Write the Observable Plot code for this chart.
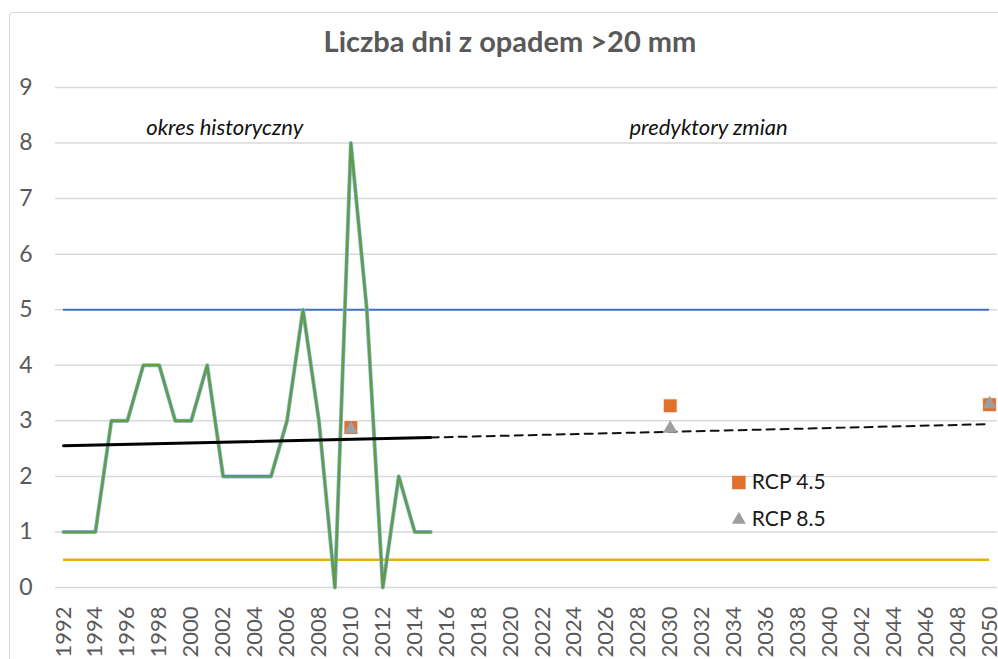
<!DOCTYPE html>
<html>
<head>
<meta charset="utf-8">
<script src="https://cdn.jsdelivr.net/npm/d3@7"></script>
<script src="https://cdn.jsdelivr.net/npm/@observablehq/plot@0.6"></script>
<style>
  html, body { margin: 0; padding: 0; background: #fff; }
  body { width: 998px; height: 659px; position: relative; overflow: hidden; font-family: Lato, "Open Sans", sans-serif; }
  #frame { position: absolute; left: 9px; top: 12px; width: 1000px; height: 660px; border: 1px solid #d9d9d9; border-radius: 3px; box-sizing: border-box; }
  #title { height: 70px; box-sizing: border-box; padding-top: 25px; text-align: center; font-weight: bold; font-size: 29px; color: #595959; padding-left: 22px; line-height: 32px; }
  #chart { position: absolute; left: 0; top: 70px; }
</style>
</head>
<body>
<div id="frame"></div>
<div id="title">Liczba dni z opadem &gt;20 mm</div>
<div id="chart"></div>
<script>
// historical observations
const histYears = [1992,1993,1994,1995,1996,1997,1998,1999,2000,2001,2002,2003,2004,2005,2006,2007,2008,2009,2010,2011,2012,2013,2014,2015];
const histValues = [1,1,1,3,3,4,4,3,3,4,2,2,2,2,3,5,3,0,8,5,0,2,1,1];

// reference thresholds
const upperLevel = 5;
const lowerLevel = 0.5;
const levelSpan = [1992, 2050];

// trend line (solid over history, dashed projection)
const trendSolidYears = [1992, 2015];
const trendSolidValues = [2.55, 2.70];
const trendDashYears = [2015, 2050];
const trendDashValues = [2.70, 2.94];

// scenario projections
const scenarioYears = [2010, 2030, 2050];
const rcp45 = [2.88, 3.27, 3.29];
const rcp85 = [2.85, 2.86, 3.30];

// axes
const yTicks = [0,1,2,3,4,5,6,7,8,9];
const xTicks = d3.range(1992, 2051, 2);

// annotations and legend
const annotations = [
  {label: "okres historyczny", year: 2002.1, value: 8.28},
  {label: "predyktory zmian", year: 2032.4, value: 8.28}
];
const legendItems = [
  {label: "RCP 4.5", symbol: "square", color: "#E0702C", year: 2034.3, value: 1.89, r: 7.6},
  {label: "RCP 8.5", symbol: "triangle", color: "#9E9E9E", year: 2034.3, value: 1.22, r: 5.2}
];

const hist = histYears.map((y, i) => ({year: y, value: histValues[i]}));
const trendSolid = trendSolidYears.map((y, i) => ({year: y, value: trendSolidValues[i]}));
const trendDash = trendDashYears.map((y, i) => ({year: y, value: trendDashValues[i]}));
const s45 = scenarioYears.map((y, i) => ({year: y, value: rcp45[i]}));
const s85 = scenarioYears.map((y, i) => ({year: y, value: rcp85[i]}));

const chart = Plot.plot({
  width: 998,
  height: 589,
  marginTop: 17,
  marginBottom: 72,
  marginLeft: 55,
  marginRight: 1,
  style: {fontFamily: "Lato, 'Open Sans', sans-serif", background: "transparent", overflow: "visible"},
  x: {domain: [1991.5, 2050.5]},
  y: {domain: [0, 9]},
  r: {type: "identity"},
  symbol: {type: "identity"},
  marks: [
    Plot.gridY(yTicks, {stroke: "#d9d9d9", strokeOpacity: 1, strokeWidth: 1.5}),
    Plot.axisY(yTicks, {tickSize: 0, tickPadding: 23, fontSize: 23, fill: "#595959", label: null, tickFormat: d => String(d)}),
    Plot.axisX(xTicks, {tickSize: 0, tickPadding: 19, tickRotate: -90, fontSize: 22, fill: "#595959", tickFormat: d => String(d), label: null}),
    Plot.ruleY([lowerLevel], {x1: levelSpan[0], x2: levelSpan[1], stroke: "#E6B012", strokeWidth: 2.5}),
    Plot.ruleY([upperLevel], {x1: levelSpan[0], x2: levelSpan[1], stroke: "#4472C4", strokeWidth: 2}),
    Plot.line(hist, {x: "year", y: "value", stroke: "#8FB4E0", strokeWidth: 4}),
    Plot.line(hist, {x: "year", y: "value", stroke: "#5E9E45", strokeWidth: 2.6}),
    Plot.line(trendSolid, {x: "year", y: "value", stroke: "#000", strokeWidth: 3}),
    Plot.line(trendDash, {x: "year", y: "value", stroke: "#111", strokeWidth: 2, strokeDasharray: "8,6"}),
    Plot.dot(s45, {x: "year", y: "value", symbol: "square", fill: "#E0702C", stroke: "#fff", strokeWidth: 0.8, r: 7.8}),
    Plot.dot(s85, {x: "year", y: "value", symbol: "triangle", fill: "#9E9E9E", r: 5.4}),
    Plot.text(annotations, {x: "year", y: "value", text: "label", fontStyle: "italic", fontSize: 22, fill: "#111"}),
    Plot.dot(legendItems, {x: "year", y: "value", symbol: "symbol", fill: "color", r: "r"}),
    Plot.text(legendItems, {x: "year", y: "value", text: "label", textAnchor: "start", dx: 13, fontSize: 21, fill: "#1a1a1a"})
  ]
});
chart.style.overflow = "visible";
document.getElementById("chart").appendChild(chart);
</script>
</body>
</html>
